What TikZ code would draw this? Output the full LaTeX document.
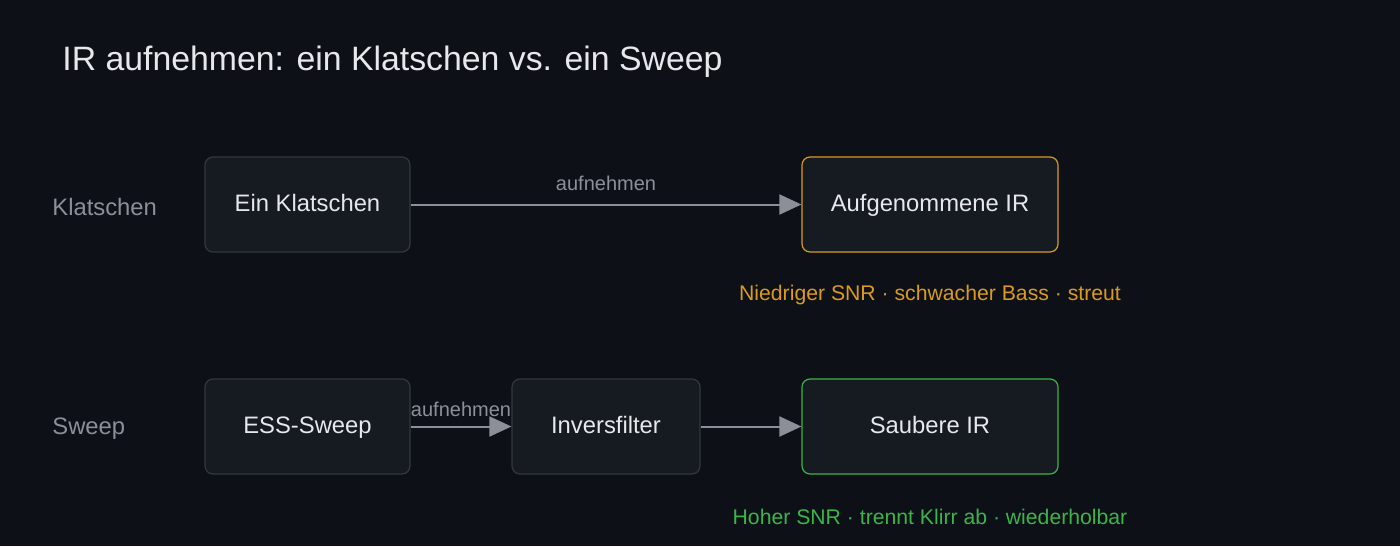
\documentclass[tikz,border=0pt]{standalone}
\usepackage{fontspec}
\setmainfont{Liberation Sans}
\usetikzlibrary{arrows.meta}
\definecolor{bgdark}{HTML}{0D1017}
\definecolor{boxfill}{HTML}{161A21}
\definecolor{boxline}{HTML}{33373E}
\definecolor{textlight}{HTML}{E6E8EB}
\definecolor{textgray}{HTML}{8B9098}
\definecolor{warnorange}{HTML}{DB9A1E}
\definecolor{goodgreen}{HTML}{3BB54A}

\begin{document}
\begin{tikzpicture}[x=0.5pt,y=-0.5pt]
    \tikzstyle{box}=[draw=boxline,fill=boxfill,rounded corners=4pt,line width=0.6pt,
        minimum height=47.5pt,text=textlight,font=\fontsize{11.9}{14}\selectfont,
        text height=0.85em,text depth=0.2em]
    \tikzstyle{row label}=[anchor=west,inner sep=0pt,text=textgray,font=\fontsize{11.9}{14}\selectfont]
    \tikzstyle{flow}=[draw=textgray,line width=1pt,-{Triangle[length=11pt,width=10pt]}]
    \tikzstyle{edge label}=[text=textgray,font=\fontsize{10}{12}\selectfont]

    \fill[bgdark] (0,0) rectangle (1400,546);

    \node(title)[anchor=west,inner sep=0pt,text=textlight,font=\fontsize{16.9}{20}\selectfont] at (62,62)
        {IR aufnehmen: ein Klatschen vs. ein Sweep};

    % rows
    \node(klatschenrow)[row label] at (52,207) {Klatschen};
    \node(sweeprow)[row label] at (52,429) {Sweep};

    \node(clap)[box,minimum width=102.5pt] at (307.5,204.5) {Ein Klatschen};
    \node(clapir)[box,draw=warnorange,minimum width=128pt] at (930,204.5) {Aufgenommene IR};
    \node(sweep)[box,minimum width=102.5pt] at (307.5,426.5) {ESS-Sweep};
    \node(inverse)[box,minimum width=94pt] at (606,426.5) {Inversfilter};
    \node(cleanir)[box,draw=goodgreen,minimum width=128pt] at (930,426.5) {Saubere IR};

    % arrows
    \draw[flow] (clap) -- node[edge label,above=3pt]{aufnehmen} (clapir);
    \draw[flow] (sweep) -- node[edge label,above=1pt]{aufnehmen} (inverse);
    \draw[flow] (inverse) -- (cleanir);

    % verdicts
    \node(clapnote)[text=warnorange,font=\fontsize{10.6}{12}\selectfont] at (930,295)
        {Niedriger SNR · schwacher Bass · streut};
    \node(sweepnote)[text=goodgreen,font=\fontsize{10.6}{12}\selectfont] at (930,517)
        {Hoher SNR · trennt Klirr ab · wiederholbar};
\end{tikzpicture}
\end{document}
